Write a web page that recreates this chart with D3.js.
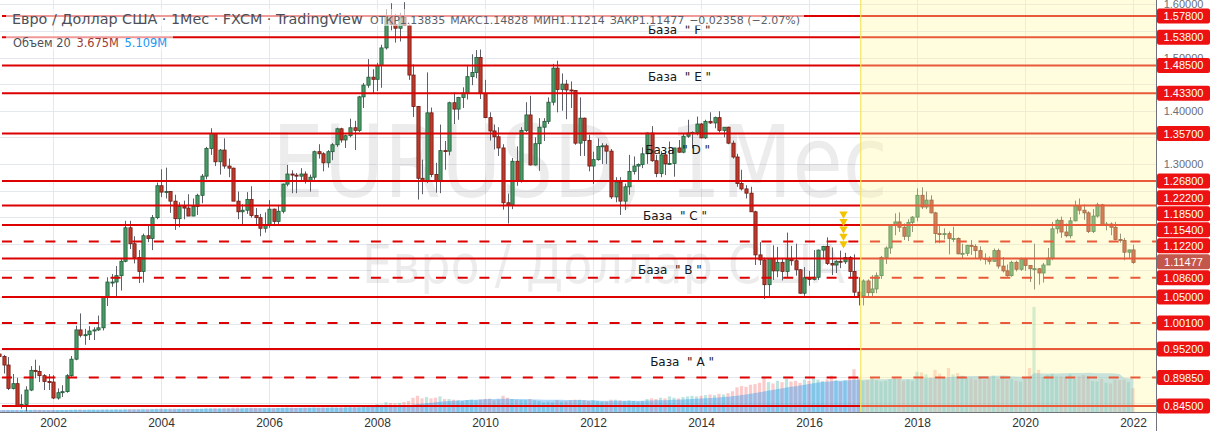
<!DOCTYPE html>
<html><head><meta charset="utf-8">
<script src="https://cdn.jsdelivr.net/npm/d3@7/dist/d3.min.js"></script>
<style>
html,body{margin:0;padding:0;background:#fff;overflow:hidden}
svg{display:block}
</style></head>
<body>
<svg id="chart" width="1213" height="431"></svg>
<script>
// ================= DATA =================
// monthly bars, index 0 = Jan 2001
const open = [
0.9427,0.9380,0.9220,0.8780,0.8870,0.8460,0.8480,0.8750,0.9120,0.9100,0.9020,0.8910,
0.8900,0.8600,0.8700,0.8720,0.9020,0.9330,0.9880,0.9780,0.9790,0.9860,0.9880,0.9920,
1.0490,1.0780,1.0780,1.0900,1.1170,1.1800,1.1500,1.1240,1.0980,1.1650,1.1600,1.1990,
1.2590,1.2470,1.2480,1.2300,1.1970,1.2200,1.2170,1.2020,1.2200,1.2410,1.2770,1.3290,
1.3570,1.3040,1.3260,1.2960,1.2920,1.2300,1.2100,1.2130,1.2330,1.2030,1.1990,1.1790,
1.1840,1.2150,1.1920,1.2110,1.2620,1.2810,1.2790,1.2770,1.2810,1.2670,1.2750,1.3230,
1.3190,1.3020,1.3230,1.3360,1.3660,1.3450,1.3530,1.3680,1.3630,1.4260,1.4480,1.4630,
1.4590,1.4850,1.5180,1.5790,1.5620,1.5550,1.5750,1.5600,1.4670,1.4080,1.2730,1.2690,
1.3960,1.2800,1.2670,1.3250,1.3240,1.4150,1.4030,1.4250,1.4330,1.4640,1.4720,1.5000,
1.4320,1.3870,1.3620,1.3510,1.3300,1.2270,1.2230,1.3050,1.2680,1.3630,1.3920,1.2980,
1.3380,1.3690,1.3800,1.4160,1.4800,1.4400,1.4500,1.4390,1.4380,1.3390,1.3860,1.3440,
1.2960,1.3080,1.3330,1.3340,1.3240,1.2380,1.2660,1.2300,1.2570,1.2860,1.2960,1.2990,
1.3190,1.3580,1.3060,1.2820,1.3170,1.3000,1.3010,1.3300,1.3220,1.3520,1.3580,1.3590,
1.3750,1.3490,1.3800,1.3770,1.3870,1.3630,1.3690,1.3390,1.3130,1.2630,1.2530,1.2450,
1.2100,1.1290,1.1195,1.0730,1.1220,1.0990,1.1150,1.0980,1.1210,1.1180,1.1010,1.0570,
1.0860,1.0830,1.0870,1.1380,1.1450,1.1130,1.1100,1.1170,1.1160,1.1240,1.0980,1.0590,
1.0520,1.0800,1.0580,1.0650,1.0900,1.1240,1.1420,1.1840,1.1910,1.1810,1.1640,1.1900,
1.2000,1.2410,1.2190,1.2320,1.2080,1.1690,1.1680,1.1690,1.1600,1.1600,1.1310,1.1320,
1.1470,1.1450,1.1370,1.1220,1.1210,1.1170,1.1370,1.1080,1.0990,1.0900,1.1150,1.1020,
1.1210,1.1090,1.1030,1.1030,1.0950,1.1100,1.1230,1.1780,1.1940,1.1720,1.1650,1.1930,
1.2210,1.2130,1.2080,1.1730,1.2020,1.2230,1.1860,1.1870,1.1810,1.1580,1.1560,1.1340,
1.13835];
const high = [
0.9594,0.9410,0.9370,0.9050,0.8980,0.8670,0.8820,0.9200,0.9320,0.9210,0.9050,0.9050,
0.9030,0.8780,0.8840,0.9050,0.9390,0.9960,1.0190,0.9900,0.9950,0.9930,1.0150,1.0500,
1.0870,1.0930,1.1080,1.1230,1.1930,1.1930,1.1640,1.1380,1.1690,1.1840,1.2040,1.2650,
1.2900,1.2930,1.2490,1.2420,1.2280,1.2310,1.2430,1.2350,1.2440,1.2810,1.3320,1.3670,
1.3580,1.3280,1.3480,1.3100,1.2930,1.2480,1.2240,1.2470,1.2580,1.2170,1.2060,1.2090,
1.2320,1.2160,1.2230,1.2630,1.2980,1.2880,1.2830,1.2920,1.2860,1.2800,1.3250,1.3370,
1.3220,1.3260,1.3390,1.3680,1.3680,1.3550,1.3850,1.3810,1.4280,1.4520,1.4970,1.4780,
1.4900,1.5240,1.5910,1.6020,1.5820,1.5840,1.6040,1.5620,1.4870,1.4090,1.3080,1.4720,
1.4060,1.3020,1.3740,1.3430,1.4170,1.4340,1.4260,1.4440,1.4840,1.5060,1.5140,1.5150,
1.4580,1.3970,1.3740,1.3690,1.3370,1.2440,1.3110,1.3330,1.3690,1.4160,1.4280,1.3500,
1.3860,1.3860,1.4250,1.4880,1.4940,1.4700,1.4580,1.4550,1.4390,1.4250,1.3870,1.3550,
1.3230,1.3480,1.3390,1.3380,1.3280,1.2750,1.2750,1.2630,1.3170,1.3140,1.3010,1.3310,
1.3590,1.3710,1.3170,1.3240,1.3240,1.3420,1.3300,1.3450,1.3570,1.3830,1.3610,1.3890,
1.3770,1.3830,1.3970,1.3890,1.3990,1.3680,1.3700,1.3440,1.3190,1.2890,1.2600,1.2570,
1.2120,1.1530,1.1240,1.1220,1.1470,1.1440,1.1220,1.1710,1.1460,1.1500,1.1020,1.1060,
1.0990,1.1380,1.1390,1.1460,1.1620,1.1430,1.1190,1.1370,1.1330,1.1270,1.1300,1.0870,
1.0830,1.0830,1.0910,1.0960,1.1270,1.1450,1.1850,1.2070,1.2090,1.1880,1.1960,1.2020,
1.2540,1.2560,1.2480,1.2410,1.2100,1.1850,1.1790,1.1730,1.1820,1.1620,1.1500,1.1480,
1.1570,1.1490,1.1450,1.1320,1.1260,1.1410,1.1410,1.1250,1.1110,1.1180,1.1180,1.1240,
1.1240,1.1100,1.1500,1.1040,1.1140,1.1420,1.1910,1.1970,1.2010,1.1880,1.2000,1.2310,
1.2350,1.2240,1.2110,1.2150,1.2270,1.2250,1.1910,1.1900,1.1910,1.1690,1.1610,1.1390,
1.14828];
const low = [
0.9104,0.9060,0.8750,0.8760,0.8440,0.8400,0.8350,0.8730,0.8970,0.8900,0.8750,0.8750,
0.8580,0.8570,0.8620,0.8700,0.9000,0.9310,0.9740,0.9600,0.9690,0.9690,0.9860,0.9870,
1.0330,1.0690,1.0500,1.0620,1.1150,1.1400,1.1130,1.0760,1.0770,1.1530,1.1380,1.1960,
1.2380,1.2350,1.2080,1.1760,1.1810,1.1960,1.2020,1.2020,1.2040,1.2260,1.2710,1.3170,
1.2960,1.2800,1.2910,1.2750,1.2300,1.1960,1.1870,1.2060,1.1990,1.1870,1.1640,1.1710,
1.1800,1.1830,1.1860,1.2070,1.2580,1.2450,1.2450,1.2680,1.2630,1.2480,1.2700,1.3100,
1.2860,1.2930,1.3070,1.3320,1.3400,1.3300,1.3500,1.3260,1.3600,1.4050,1.4430,1.4330,
1.4370,1.4430,1.5150,1.5510,1.5280,1.5300,1.5590,1.4580,1.3880,1.2330,1.2430,1.2640,
1.2750,1.2460,1.2450,1.2890,1.3160,1.3750,1.3830,1.4050,1.4210,1.4480,1.4610,1.4220,
1.3860,1.3440,1.3270,1.3150,1.2140,1.1880,1.2150,1.2590,1.2650,1.3600,1.2970,1.2970,
1.2870,1.3430,1.3750,1.4100,1.3970,1.4000,1.3840,1.4050,1.3360,1.3150,1.3150,1.2860,
1.2620,1.3060,1.3000,1.3000,1.2340,1.2280,1.2040,1.2130,1.2420,1.2800,1.2660,1.2920,
1.3000,1.3040,1.2750,1.2750,1.2790,1.2990,1.2760,1.3210,1.3200,1.3490,1.3290,1.3540,
1.3480,1.3470,1.3750,1.3670,1.3590,1.3500,1.3370,1.3100,1.2570,1.2500,1.2350,1.2100,
1.1100,1.1100,1.0460,1.0520,1.0820,1.0870,1.0810,1.0860,1.1090,1.0900,1.0560,1.0520,
1.0710,1.0810,1.0820,1.1220,1.1100,1.0910,1.0950,1.1040,1.1120,1.0850,1.0510,1.0340,
1.0340,1.0490,1.0490,1.0570,1.0840,1.1120,1.1310,1.1660,1.1720,1.1570,1.1550,1.1720,
1.1920,1.2150,1.2150,1.2070,1.1510,1.1510,1.1580,1.1300,1.1530,1.1300,1.1220,1.1270,
1.1290,1.1230,1.1180,1.1110,1.1110,1.1160,1.1030,1.0960,1.0880,1.0880,1.0980,1.0990,
1.0990,1.0780,1.0640,1.0730,1.0770,1.1100,1.1190,1.1690,1.1610,1.1620,1.1600,1.1920,
1.2050,1.1950,1.1700,1.1700,1.1990,1.1850,1.1750,1.1660,1.1560,1.1520,1.1190,1.1220,
1.11214];
const close = [
0.9380,0.9220,0.8780,0.8870,0.8460,0.8480,0.8750,0.9120,0.9100,0.9020,0.8910,0.8900,
0.8600,0.8700,0.8720,0.9020,0.9330,0.9880,0.9780,0.9790,0.9860,0.9880,0.9920,1.0490,
1.0780,1.0780,1.0900,1.1170,1.1800,1.1500,1.1240,1.0980,1.1650,1.1600,1.1990,1.2590,
1.2470,1.2480,1.2300,1.1970,1.2200,1.2170,1.2020,1.2200,1.2410,1.2770,1.3290,1.3570,
1.3040,1.3260,1.2960,1.2920,1.2300,1.2100,1.2130,1.2330,1.2030,1.1990,1.1790,1.1840,
1.2150,1.1920,1.2110,1.2620,1.2810,1.2790,1.2770,1.2810,1.2670,1.2750,1.3230,1.3190,
1.3020,1.3230,1.3360,1.3660,1.3450,1.3530,1.3680,1.3630,1.4260,1.4480,1.4630,1.4590,
1.4850,1.5180,1.5790,1.5620,1.5550,1.5750,1.5600,1.4670,1.4080,1.2730,1.2690,1.3960,
1.2800,1.2670,1.3250,1.3240,1.4150,1.4030,1.4250,1.4330,1.4640,1.4720,1.5000,1.4320,
1.3870,1.3620,1.3510,1.3300,1.2270,1.2230,1.3050,1.2680,1.3630,1.3920,1.2980,1.3380,
1.3690,1.3800,1.4160,1.4800,1.4400,1.4500,1.4390,1.4380,1.3390,1.3860,1.3440,1.2960,
1.3080,1.3330,1.3340,1.3240,1.2380,1.2660,1.2300,1.2570,1.2860,1.2960,1.2990,1.3190,
1.3580,1.3060,1.2820,1.3170,1.3000,1.3010,1.3300,1.3220,1.3520,1.3580,1.3590,1.3750,
1.3490,1.3800,1.3770,1.3870,1.3630,1.3690,1.3390,1.3130,1.2630,1.2530,1.2450,1.2100,
1.1290,1.1195,1.0730,1.1220,1.0990,1.1150,1.0980,1.1210,1.1180,1.1010,1.0570,1.0860,
1.0830,1.0870,1.1380,1.1450,1.1130,1.1100,1.1170,1.1160,1.1240,1.0980,1.0590,1.0520,
1.0800,1.0580,1.0650,1.0900,1.1240,1.1420,1.1840,1.1910,1.1810,1.1640,1.1900,1.2000,
1.2410,1.2190,1.2320,1.2080,1.1690,1.1680,1.1690,1.1600,1.1600,1.1310,1.1320,1.1470,
1.1450,1.1370,1.1220,1.1210,1.1170,1.1370,1.1080,1.0990,1.0900,1.1150,1.1020,1.1210,
1.1090,1.1030,1.1030,1.0950,1.1100,1.1230,1.1780,1.1940,1.1720,1.1650,1.1930,1.2210,
1.2130,1.2080,1.1730,1.2020,1.2230,1.1860,1.1870,1.1810,1.1580,1.1560,1.1340,1.13835,
1.11477];
// volume, millions
const volume = [
0.30,0.28,0.32,0.29,0.31,0.28,0.33,0.32,0.36,0.34,0.31,0.30,
0.32,0.30,0.31,0.33,0.36,0.40,0.42,0.37,0.35,0.36,0.34,0.38,
0.40,0.38,0.44,0.41,0.48,0.45,0.43,0.44,0.48,0.45,0.44,0.50,
0.52,0.50,0.53,0.51,0.50,0.48,0.49,0.48,0.50,0.53,0.56,0.58,
0.60,0.58,0.63,0.60,0.66,0.68,0.65,0.63,0.66,0.64,0.63,0.60,
0.63,0.60,0.62,0.66,0.70,0.68,0.65,0.63,0.64,0.66,0.70,0.68,
0.70,0.68,0.73,0.71,0.74,0.76,0.80,0.95,0.90,0.88,1.00,0.95,
1.20,1.15,1.50,1.40,1.35,1.40,1.55,1.70,2.20,2.50,2.10,2.30,
2.10,2.20,2.40,2.00,2.00,1.90,1.80,1.70,1.85,1.90,1.80,1.95,
2.00,2.05,1.80,1.95,2.50,2.20,2.00,1.90,1.85,1.90,2.00,1.80,
1.70,1.50,1.60,1.50,1.80,1.60,1.65,1.80,1.90,1.90,1.80,1.70,
1.80,1.70,1.60,1.60,1.90,1.90,1.80,1.70,1.80,1.70,1.60,1.70,
2.00,2.10,2.00,2.20,2.10,2.40,2.20,2.10,2.30,2.40,2.50,2.40,
2.50,2.60,2.70,2.60,2.80,2.70,2.90,3.20,3.80,4.00,3.90,4.20,
4.30,4.50,5.20,4.60,4.40,4.80,4.60,5.10,4.70,4.80,4.50,5.00,
4.80,5.20,5.00,4.80,5.00,5.60,4.90,4.70,4.90,5.20,6.60,5.20,
4.80,4.90,5.30,4.90,4.70,4.80,5.10,5.40,5.10,4.80,5.00,4.80,
6.20,6.10,5.80,5.30,6.50,5.90,5.30,6.80,5.80,6.00,5.60,5.40,
5.20,5.00,5.40,5.00,5.30,5.60,5.10,5.50,5.00,5.10,4.80,4.70,
5.20,6.80,16.2,6.50,5.40,5.70,5.90,5.50,5.50,5.30,5.80,5.10,
5.50,5.70,5.60,4.80,4.70,5.10,4.50,4.40,5.00,4.90,5.00,4.60,
3.675];
const firstYear = 2001;
const yearTicks = [2002,2004,2006,2008,2010,2012,2014,2016,2018,2020,2022];
const priceGrid = [0.85,0.90,0.95,1.00,1.05,1.10,1.15,1.20,1.25,1.30,1.35,1.40,1.45,1.50,1.55,1.60];
const priceTickLabels = [1.60,1.50,1.40,1.30];
const solidLevels = [1.578,1.538,1.485,1.433,1.357,1.268,1.222,1.185,1.122,1.050,0.952,0.845];
const dashedLevels = [1.154,1.086,1.001,0.8985];
const lastPrice = 1.11477;
const baseNames = ["F","E","D","C","B","A"];
const basePrice = [1.544,1.456,1.3186,1.1945,1.093,0.920];
const baseMonth = [144.2,144.2,143.6,143.1,142.0,144.7];
const signalMonth = 188;
const signalPrices = [1.2060,1.1920,1.1780,1.1640,1.1500];
const highlightStartMonth = 191.5;
const legendTitle = "Евро / Доллар США · 1Мес · FXCM · TradingView";
const legendItems = ["ОТКР1.13835","МАКС1.14828","МИН1.11214","ЗАКР1.11477","−0.02358 (−2.07%)"];
const volLegend = ["Объем 20","3.675M","5.109M"];
const watermark1 = "EURUSD, 1Мес";
const watermark2 = "Евро / Доллар США";

// ================= DRAW =================
const W=1213, H=431, PR=1156, PB=412;
const UI = "'DejaVu Sans', sans-serif";
const AX = "'Liberation Sans', Arial, sans-serif";
const svg = d3.select('#chart');
const x = d3.scaleLinear().domain([12, 252]).range([53, 1133]);
const y = d3.scaleLinear().domain([0.845, 1.578]).range([406, 16]);
const yv = d3.scaleLinear().domain([0, 16.5]).range([PB, 305]);
const idx = d3.range(open.length);

// fit a text element horizontally to a target width by adjusting font size
function fitWidth(sel, target){
  for(let k=0;k<3;k++){
    const fs = +sel.attr('font-size');
    const w = sel.node().getBBox().width;
    sel.attr('font-size', fs*target/w);
  }
}

svg.append('rect').attr('width',W).attr('height',H).attr('fill','#fff');
svg.append('defs').append('clipPath').attr('id','plotclip')
  .append('rect').attr('x',0).attr('y',0).attr('width',PR).attr('height',PB);
const plot = svg.append('g').attr('clip-path','url(#plotclip)');

// grid
plot.append('g').selectAll('line').data(priceGrid).join('line')
  .attr('x1',0).attr('x2',PR)
  .attr('y1',d=>Math.round(y(d))+0.5).attr('y2',d=>Math.round(y(d))+0.5)
  .attr('stroke','#e4e7ed').attr('stroke-width',1);
plot.append('g').selectAll('line').data(yearTicks).join('line')
  .attr('x1',d=>Math.round(x((d-firstYear)*12))+0.5).attr('x2',d=>Math.round(x((d-firstYear)*12))+0.5)
  .attr('y1',0).attr('y2',PB)
  .attr('stroke','#e4e7ed').attr('stroke-width',1);

// watermark
plot.append('text').text(watermark1)
  .attr('x',272).attr('y',197).attr('font-family',UI).attr('font-size',100)
  .attr('fill','#000').attr('fill-opacity',0.075)
  .attr('textLength',616).attr('lengthAdjust','spacingAndGlyphs');
plot.append('text').text(watermark2)
  .attr('x',362).attr('y',283).attr('font-family',UI).attr('font-size',54)
  .attr('fill','#000').attr('fill-opacity',0.075)
  .attr('textLength',483).attr('lengthAdjust','spacingAndGlyphs');

// volume
plot.append('g').selectAll('rect').data(idx).join('rect')
  .attr('x',i=>x(i)-1.6).attr('width',3.2)
  .attr('y',i=>yv(volume[i])).attr('height',i=>PB-yv(volume[i]))
  .attr('fill',i=>close[i]>=open[i]?'rgba(38,166,154,0.30)':'rgba(239,83,80,0.30)');
const ma = idx.map(i=>d3.mean(volume.slice(Math.max(0,i-19), i+1)));
plot.append('path').datum(idx)
  .attr('d', d3.area().x(i=>x(i)).y0(PB).y1(i=>yv(ma[i])))
  .attr('fill','rgba(33,150,243,0.38)');

// candles
const cg = plot.append('g');
cg.selectAll('line').data(idx).join('line')
  .attr('x1',i=>Math.round(x(i))+0.5).attr('x2',i=>Math.round(x(i))+0.5)
  .attr('y1',i=>y(high[i])).attr('y2',i=>y(low[i]))
  .attr('stroke','#5d6068').attr('stroke-width',1);
cg.selectAll('rect').data(idx).join('rect')
  .attr('x',i=>Math.round(x(i))+0.5-1.6).attr('width',3.2)
  .attr('y',i=>y(Math.max(open[i],close[i])))
  .attr('height',i=>Math.max(1,Math.abs(y(open[i])-y(close[i]))))
  .attr('fill',i=>close[i]>=open[i]?'#4a9a67':'#bf3a2c')
  .attr('stroke',i=>close[i]>=open[i]?'#1f5a37':'#6e1a12')
  .attr('stroke-width',0.8);

// horizontal levels
const lg = plot.append('g');
lg.selectAll('line.s').data(solidLevels).join('line')
  .attr('x1',2).attr('x2',PR).attr('y1',d=>y(d)).attr('y2',d=>y(d))
  .attr('stroke','#dd0000').attr('stroke-width',2);
lg.selectAll('line.d').data(dashedLevels).join('line')
  .attr('x1',2).attr('x2',PR).attr('y1',d=>y(d)).attr('y2',d=>y(d))
  .attr('stroke','#dd0000').attr('stroke-width',2).attr('stroke-dasharray','10 11.7');

// base labels
plot.append('g').selectAll('text').data(baseNames).join('text')
  .attr('x',(d,i)=>x(baseMonth[i])).attr('y',(d,i)=>y(basePrice[i]))
  .style('white-space','pre')
  .attr('font-family',UI).attr('font-size',12).attr('fill','#131722')
  .text(d=>'База  " '+d+' "');

// signal triangles
plot.append('g').selectAll('path').data(signalPrices).join('path')
  .attr('d', d3.symbol(d3.symbolTriangle, 30))
  .attr('transform', d=>`translate(${x(signalMonth)-1.5},${y(d)}) rotate(180)`)
  .attr('fill','#f5c400');

// highlighted yellow area
const hx = x(highlightStartMonth);
plot.append('rect').attr('x',hx).attr('y',0).attr('width',PR-hx).attr('height',PB)
  .attr('fill','rgba(255,250,160,0.36)');
plot.append('line').attr('x1',hx).attr('x2',hx).attr('y1',0).attr('y2',PB)
  .attr('stroke','#f3e65c').attr('stroke-width',1.2);

// legend
const leg = svg.append('g');
const bg1 = leg.append('rect');
const bg2 = leg.append('rect');
const t1 = leg.append('text').attr('x',12).attr('y',24).attr('font-family',UI)
  .attr('font-size',13.5).attr('fill','#4c4f57').text(legendTitle);
fitWidth(t1, 351);
const vals = leg.append('text').attr('x',370).attr('y',24).attr('font-family',UI)
  .attr('font-size',12).attr('fill','#5d6068');
legendItems.forEach((d,i)=>{
  vals.append('tspan').attr('dx', i? '0.45em':0).text(d);
});
fitWidth(vals, 430);
bg1.attr('x',6).attr('y',9).attr('width',800+4-6).attr('height',17)
  .attr('fill','#fff').attr('fill-opacity',0.6);
const t2 = leg.append('text').attr('x',13).attr('y',47).attr('font-family',UI).attr('font-size',11.5);
t2.append('tspan').attr('fill','#4c4f57').text(volLegend[0]);
t2.append('tspan').attr('dx','0.5em').attr('fill','#9c3b32').text(volLegend[1]);
t2.append('tspan').attr('dx','0.5em').attr('fill','#2196f3').text(volLegend[2]);
fitWidth(t2, 154);
bg2.attr('x',6).attr('y',33).attr('width',154+13).attr('height',17)
  .attr('fill','#fff').attr('fill-opacity',0.6);

// right axis
svg.append('rect').attr('x',PR).attr('y',0).attr('width',W-PR).attr('height',H).attr('fill','#fff');
svg.append('rect').attr('x',0).attr('y',PB).attr('width',PR).attr('height',H-PB).attr('fill','#fff');
const yAxis = d3.axisRight(y).tickValues(priceTickLabels).tickFormat(d3.format('.5f')).tickSize(0).tickPadding(0);
const ya = svg.append('g').attr('transform',`translate(${PR+27.5},0)`).call(yAxis);
ya.select('.domain').remove();
ya.selectAll('text').attr('text-anchor','middle').attr('font-family',AX).attr('font-size',11).attr('fill','#6b6e78');

// level labels: overlapping labels are stacked upward from the lowest one of the group
const labels = solidLevels.concat(dashedLevels).map(v=>({v, last:false}))
  .concat([{v:lastPrice,last:true}])
  .map(d=>({...d, y0:y(d.v)}))
  .sort((a,b)=>a.y0-b.y0);
const LH=16;
let groups = labels.map(d=>({items:[d]}));
const gBottom = g => g.items[g.items.length-1].y0;
const gTop = g => gBottom(g) - (g.items.length-1)*LH;
let changed=true;
while(changed){
  changed=false;
  for(let i=0;i<groups.length-1;i++){
    const a=groups[i], b=groups[i+1];
    if(gBottom(a) + LH > gTop(b)){
      groups.splice(i,2,{items:a.items.concat(b.items)}); changed=true; break;
    }
  }
}
groups.forEach(g=>{
  const top=gTop(g);
  g.items.forEach((d,k)=>d.y=top+LH*k);
});
const lab = svg.append('g').selectAll('g').data(labels).join('g')
  .attr('transform',d=>`translate(${PR+1},${d.y})`);
lab.append('rect').attr('x',0).attr('y',-7.5).attr('width',53).attr('height',15).attr('rx',2)
  .attr('fill',d=>d.last?'#c4574c':'#ee1111');
lab.append('text').attr('x',26.5).attr('dy','0.36em').attr('text-anchor','middle')
  .attr('font-family',AX).attr('font-size',11).attr('fill','#fff')
  .text(d=>d.v.toFixed(5));

// bottom axis
const xAxis = d3.axisBottom(x).tickValues(yearTicks.map(d=>(d-firstYear)*12))
  .tickFormat(d=>String(firstYear + d/12)).tickSize(0).tickPadding(0);
const xa = svg.append('g').attr('transform',`translate(0,${PB+11})`).call(xAxis);
xa.select('.domain').remove();
xa.selectAll('text').attr('font-family',AX).attr('font-size',12).attr('fill','#333').attr('dy','0.35em');

// borders
svg.append('line').attr('x1',0).attr('x2',PR+1).attr('y1',PB+0.5).attr('y2',PB+0.5).attr('stroke','#6f727a');
svg.append('line').attr('x1',PR+0.5).attr('x2',PR+0.5).attr('y1',0).attr('y2',H).attr('stroke','#6f727a');
</script>
</body></html>
